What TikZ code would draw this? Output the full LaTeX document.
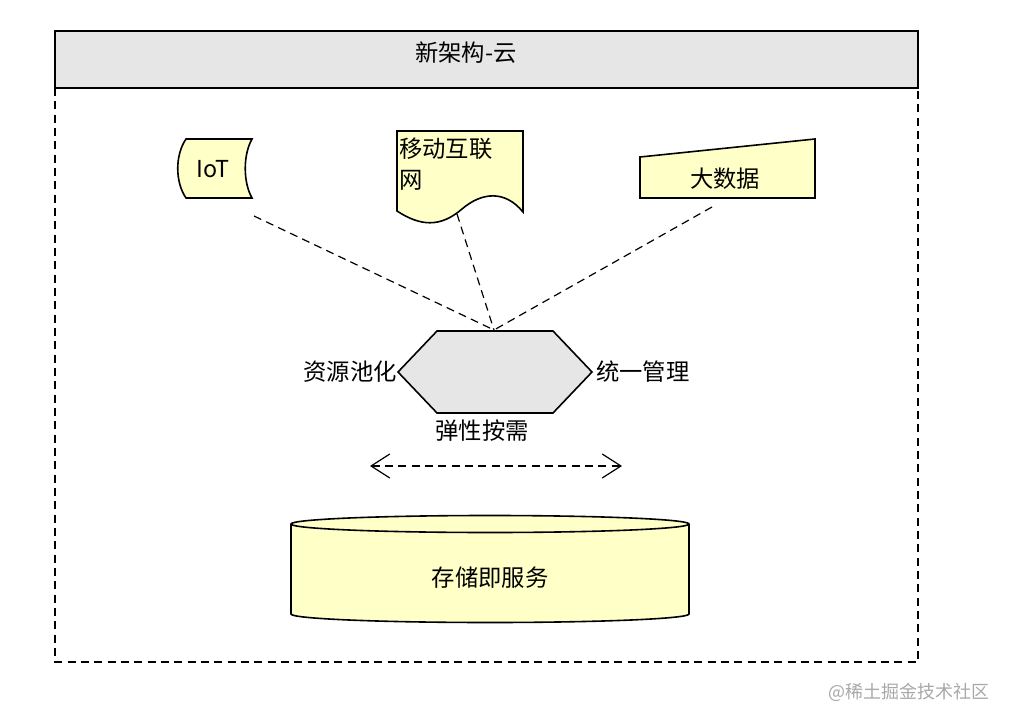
\documentclass[tikz,border=0pt]{standalone}
\usepackage{fontspec}
\setmainfont{Noto Sans CJK SC}
\usetikzlibrary{arrows.meta}
\definecolor{shapeyellow}{HTML}{FFFFC8}
\definecolor{shapegray}{HTML}{E6E6E6}
\definecolor{markgray}{HTML}{A8A8A8}
\tikzset{
  outline/.style={draw=black, line width=1.2pt, line join=miter},
  yellowshape/.style={outline, fill=shapeyellow},
  grayshape/.style={outline, fill=shapegray},
  dashlink/.style={draw=black, line width=0.9pt, dash pattern=on 6pt off 4pt},
  txt/.style={inner sep=0pt, font=\fontsize{17.5}{21}\selectfont, text=black},
}
\begin{document}
\begin{tikzpicture}[x=0.75pt,y=-0.75pt]
\useasboundingbox (0,0) rectangle (1010,724);
% outer dashed frame
\draw[line width=1.2pt, dash pattern=on 6pt off 4pt] (55,88) -- (55,662) -- (918,662) -- (918,88);
% header
\draw[grayshape] (55,31) rectangle (918,88);
\node[txt] (title) at (466,53) {新架构-云};

% IoT (stored data shape)
\draw[yellowshape] (186,139) -- (252,139) .. controls (243,155) and (243,182) .. (252,198)
  -- (186,198) .. controls (175,182) and (175,155) .. (186,139) -- cycle;
\node[txt] (iot) at (213,169) {IoT};

% mobile internet (document shape)
\draw[yellowshape] (397,131) -- (523,131) -- (523,212)
  .. controls (505,190) and (482,192) .. (462,209)
  .. controls (440,228) and (420,226) .. (397,211) -- cycle;
\node[txt, anchor=north west, align=left] (mobile) at (399,138) {移动互联\\[2pt]网};

% big data (manual input)
\draw[yellowshape] (640,157) -- (815,139) -- (815,198) -- (640,198) -- cycle;
\node[txt] (bigdata) at (725,179) {大数据};

% hexagon
\draw[grayshape] (437,331) -- (553,331) -- (592,372) -- (553,413) -- (437,413) -- (398,372) -- cycle;
\node[txt, anchor=east] (pool) at (397,372) {资源池化};
\node[txt, anchor=west] (manage) at (596,372) {统一管理};
\node[txt] (elastic) at (482,431) {弹性按需};

% connector end points
\coordinate (iotEnd) at (254,216);
\coordinate (mobileEnd) at (457,214);
\coordinate (bigEnd) at (712,207);
\coordinate (hexTop) at (494,330);
\draw[dashlink] (iotEnd) -- (hexTop);
\draw[dashlink] (mobileEnd) -- (hexTop);
\draw[dashlink] (bigEnd) -- (hexTop);

% double arrow
\coordinate (arrL) at (370,466);
\coordinate (arrR) at (622,466);
\draw[dashlink, {Straight Barb[length=14pt,width=18pt,line width=0.9pt]}-{Straight Barb[length=14pt,width=18pt,line width=0.9pt]}] (arrL) -- (arrR);

% cylinder
\draw[yellowshape] (291,524) -- (291,614) arc[start angle=180, end angle=0, x radius=199, y radius=8.5]
  -- (689,524) arc[start angle=360, end angle=180, x radius=199, y radius=8.5] -- cycle;
\draw[outline] (291,524) arc[start angle=180, end angle=0, x radius=199, y radius=8.5];
\node[txt] (storage) at (490,578) {存储即服务};

% watermark
\node[inner sep=0pt, anchor=east, font=\fontsize{13.5}{16}\selectfont, text=markgray] (mark) at (990,692) {@稀土掘金技术社区};
\end{tikzpicture}
\end{document}
